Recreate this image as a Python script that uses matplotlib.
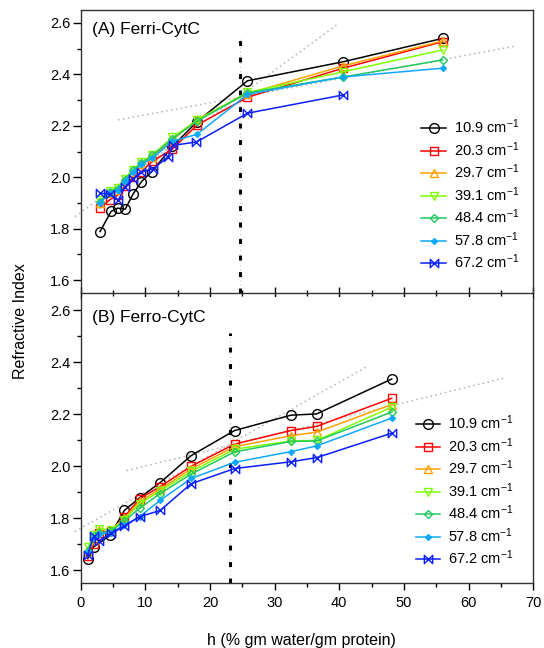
import matplotlib
matplotlib.use('Agg')
import matplotlib.pyplot as plt
from matplotlib.path import Path
from matplotlib.ticker import MultipleLocator

plt.rcParams['font.family'] = ['Liberation Sans', 'DejaVu Sans']
plt.rcParams['mathtext.default'] = 'regular'

# Series labels (frequencies) and colours
labels = ['10.9 cm$^{-1}$', '20.3 cm$^{-1}$', '29.7 cm$^{-1}$', '39.1 cm$^{-1}$',
          '48.4 cm$^{-1}$', '57.8 cm$^{-1}$', '67.2 cm$^{-1}$']
colors = ['black', '#ff0000', '#ffa000', '#80ff00', '#20c860', '#10a8ff', '#0a1eff']

# Panel A: Ferri-CytC
hA = [3.0, 4.5, 5.7, 6.8, 8.1, 9.4, 11.1, 14.2, 18.0, 25.8, 40.6, 56.0]
hA_black = [3.0, 4.7, 5.7, 6.9, 8.1, 9.4, 11.0, 14.2, 18.0, 25.8, 40.6, 56.0]
hA_blue = [3.0, 4.5, 5.8, 6.85, 8.1, 9.4, 11.2, 13.5, 14.3, 17.9, 25.8, 40.6]
nA_109 = [1.789, 1.867, 1.880, 1.876, 1.935, 1.983, 2.022, 2.12, 2.216, 2.375, 2.449, 2.54]
nA_203 = [1.882, 1.912, 1.93, 1.965, 2.0, 2.022, 2.062, 2.11, 2.203, 2.311, 2.424, 2.527]
nA_297 = [1.90, 1.94, 1.95, 1.985, 2.02, 2.05, 2.08, 2.145, 2.225, 2.325, 2.433, 2.53]
nA_391 = [1.91, 1.948, 1.96, 1.995, 2.03, 2.058, 2.088, 2.155, 2.222, 2.33, 2.41, 2.495]
nA_484 = [1.905, 1.944, 1.955, 1.99, 2.027, 2.055, 2.085, 2.15, 2.218, 2.328, 2.39, 2.456]
nA_578 = [1.90, 1.94, 1.95, 1.985, 2.02, 2.05, 2.075, 2.14, 2.167, 2.322, 2.39, 2.424]
nA_672 = [1.938, 1.935, 1.91, 1.962, 1.994, 2.02, 2.033, 2.079, 2.124, 2.137, 2.249, 2.32]

# Panel B: Ferro-CytC
hB = [1.1, 2.0, 2.9, 4.7, 6.75, 9.1, 12.3, 17.1, 23.8, 32.5, 36.5, 48.1]
hB_black = [1.1, 2.0, 4.6, 6.75, 9.1, 12.3, 17.1, 23.8, 32.5, 36.5, 48.1]
nB_109 = [1.645, 1.69, 1.735, 1.83, 1.878, 1.937, 2.041, 2.137, 2.196, 2.201, 2.335]
nB_203 = [1.655, 1.70, 1.745, 1.75, 1.805, 1.875, 1.922, 2.0, 2.085, 2.137, 2.153, 2.261]
nB_297 = [1.67, 1.72, 1.755, 1.756, 1.80, 1.865, 1.912, 1.99, 2.075, 2.117, 2.131, 2.237]
nB_391 = [1.688, 1.735, 1.76, 1.756, 1.795, 1.856, 1.905, 1.98, 2.065, 2.097, 2.099, 2.227]
nB_484 = [1.675, 1.73, 1.745, 1.75, 1.79, 1.838, 1.895, 1.97, 2.055, 2.095, 2.097, 2.208]
nB_578 = [1.67, 1.725, 1.74, 1.745, 1.774, 1.806, 1.869, 1.953, 2.015, 2.056, 2.078, 2.185]
nB_672 = [1.66, 1.73, 1.714, 1.742, 1.769, 1.806, 1.83, 1.933, 1.991, 2.017, 2.033, 2.127]

# Grey dotted guide lines (end points) and hydration threshold
guideA_x = [[5.8, 67.5], [-0.9, 39.6]]
guideA_y = [[2.223, 2.511], [1.847, 2.592]]
guideB_x = [[7.1, 65.4], [-0.9, 44.5]]
guideB_y = [[1.983, 2.338], [1.749, 2.386]]
thresholdA = 24.6
thresholdB = 23.1

bowtie = Path([(-1, 1), (-1, -1), (1, 1), (1, -1), (-1, 1)],
              [Path.MOVETO, Path.LINETO, Path.LINETO, Path.LINETO, Path.CLOSEPOLY])
markers = ['o', 's', '^', 'v', 'D', 'D', bowtie]
msizes = [7, 6, 6, 6, 4.5, 3, 6]
mfills = ['none', 'none', 'none', 'none', 'none', None, 'none']

fig = plt.figure(figsize=(5.44, 6.48), dpi=100)
axA = fig.add_axes([0.1483, 0.5478, 0.832, 0.4367])
axB = fig.add_axes([0.1483, 0.0998, 0.832, 0.4418])

seriesA = [(hA_black, nA_109), (hA, nA_203), (hA, nA_297), (hA, nA_391),
           (hA, nA_484), (hA, nA_578), (hA_blue, nA_672)]
seriesB = [(hB_black, nB_109), (hB, nB_203), (hB, nB_297), (hB, nB_391),
           (hB, nB_484), (hB, nB_578), (hB, nB_672)]

for ax, series, gx, gy, thr, title in [
        (axA, seriesA, guideA_x, guideA_y, thresholdA, '(A) Ferri-CytC'),
        (axB, seriesB, guideB_x, guideB_y, thresholdB, '(B) Ferro-CytC')]:
    for xs, ys in zip(gx, gy):
        ax.plot(xs, ys, ls=(0, (1, 2.2)), color='#b4b4b4', lw=1.1, zorder=1, clip_on=False)
    top = 2.54 if ax is axA else 2.51
    ax.plot([thr, thr], [1.55, top], ls=(0, (1, 2.5)), color='#c8c8c8', lw=0.8, zorder=1)
    ax.plot([thr, thr], [1.55, top], ls=(0, (1.6, 3.8)), color='black', lw=2.2, zorder=1)
    for i, (xs, ys) in enumerate(series):
        fc = colors[i] if mfills[i] is None else 'none'
        ax.plot(xs, ys, color=colors[i], lw=1.1, marker=markers[i], ms=msizes[i],
                mfc=fc, mec=colors[i], mew=1.0, label=labels[i], zorder=3 + i * 0.1)
    ax.set_xlim(0, 70)
    ax.set_ylim(1.55, 2.65)
    ax.yaxis.set_major_locator(MultipleLocator(0.2))
    ax.yaxis.set_minor_locator(MultipleLocator(0.1))
    ax.xaxis.set_major_locator(MultipleLocator(10))
    ax.xaxis.set_minor_locator(MultipleLocator(5))
    ax.yaxis.set_major_formatter(plt.FormatStrFormatter('%.1f'))
    ax.tick_params(axis='y', which='major', direction='out', length=5.5, width=1, labelsize=10.5, pad=2)
    ax.tick_params(axis='y', which='minor', direction='out', length=3, width=1)
    ax.tick_params(axis='x', which='major', length=5, width=1, labelsize=10.5)
    ax.tick_params(axis='x', which='minor', length=3, width=1)
    for s in ax.spines.values():
        s.set_linewidth(1.0)
        s.set_color('#333333')
    ax.text(0.025, 0.93, title, transform=ax.transAxes, fontsize=12.5, va='center', ha='left')
    leg = ax.legend(loc='upper left', frameon=False, fontsize=10.5, handlelength=1.65,
                    handletextpad=0.55, labelspacing=0.27, borderpad=0, borderaxespad=0,
                    bbox_to_anchor=(0.753 if ax is axA else 0.74, 0.62 if ax is axA else 0.593))

axA.tick_params(axis='x', which='both', direction='inout', labelbottom=False)
axA.tick_params(axis='x', which='major', length=8)
axA.tick_params(axis='x', which='minor', length=5)
axB.spines['top'].set_visible(False)
axB.tick_params(axis='x', which='both', direction='out', pad=4)

fig.text(0.037, 0.505, 'Refractive Index', rotation=90, fontsize=11.5, ha='center', va='center')
fig.text(0.555, 0.012, 'h (% gm water/gm protein)', fontsize=11.5, ha='center', va='center')

fig.savefig('out.png', dpi=100)
